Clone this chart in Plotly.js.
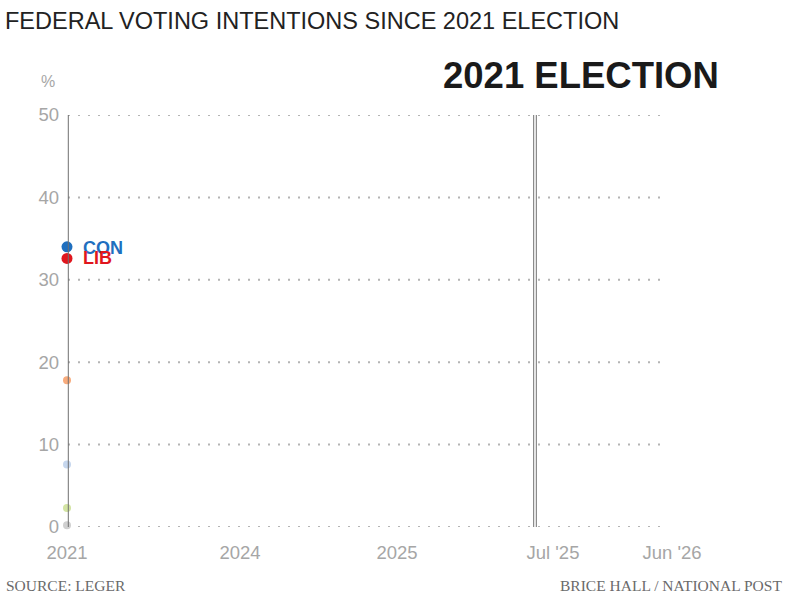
<!DOCTYPE html>
<html>
<head>
<meta charset="utf-8">
<script src="https://cdn.plot.ly/plotly-3.0.1.min.js"></script>
<style>
html,body{margin:0;padding:0;background:#fff;}
#chart{width:800px;height:599px;}
</style>
</head>
<body>
<div id="chart"></div>
<script>
// Tick positions along the (non-linear) time axis
const tickLabels = ["2021", "2024", "2025", "Jul '25", "Jun '26"];
const tickPos = [0, 173, 330, 486, 605];
const electionPos = 468;   // 2021 election marker position
const axisEnd = 595;

// Parties and values at the 2021 election
const parties = ["CON", "LIB", "NDP", "BQ", "GRN", "OTH"];
const partyX = [0, 0, 0, 0, 0, 0];
const partyValues = [34.0, 32.6, 17.8, 7.6, 2.3, 0.2];
const partyColors = ["#1f6fbf", "#e0161e", "#f8ab7c", "#c6d7ee", "#d3e4a3", "#d0d0d0"];
const partySizes = [11, 11, 8, 8, 8, 8];
const labelled = ["CON", "LIB"];
const labelY = [33.8, 32.7];

const yTicks = [0, 10, 20, 30, 40, 50];

const traces = parties.map((p, i) => ({
  type: 'scatter',
  mode: 'markers',
  x: [partyX[i]],
  y: [partyValues[i]],
  marker: {color: partyColors[i], size: partySizes[i]},
  cliponaxis: false,
  hoverinfo: 'none',
  showlegend: false
}));

const shapes = [];
yTicks.forEach(v => {
  shapes.push({type: 'line', xref: 'x', yref: 'y', x0: 1, x1: axisEnd, y0: v, y1: v,
    line: {color: '#b4b4b4', width: 2, dash: '2px,8px'}, layer: 'below'});
});
[0, electionPos].forEach(xv => {
  shapes.push({type: 'line', xref: 'x', yref: 'y', x0: xv - 1.3, x1: xv - 1.3, y0: 0, y1: 51.5,
    line: {color: '#707070', width: 1}, layer: 'above'});
  shapes.push({type: 'line', xref: 'x', yref: 'y', x0: xv + 1.3, x1: xv + 1.3, y0: 0, y1: 51.5,
    line: {color: '#707070', width: 1}, layer: 'above'});
});

const annotations = [
  {text: 'FEDERAL VOTING INTENTIONS SINCE 2021 ELECTION', xref: 'paper', yref: 'paper',
   x: -64/605, y: (599-72-21)/412, xanchor: 'left', yanchor: 'middle', showarrow: false,
   font: {family: 'Liberation Sans, Arial, sans-serif', size: 23.5, color: '#222222'}},
  {text: '2021 ELECTION', xref: 'paper', yref: 'paper',
   x: (721-67)/605, y: (599-72-76)/412, xanchor: 'right', yanchor: 'middle', showarrow: false,
   font: {family: 'Liberation Sans, Arial, sans-serif', size: 36.5, color: '#1a1a1a', weight: 'bold'}},
  {text: '%', xref: 'paper', yref: 'paper',
   x: (48-67)/605, y: (599-72-82)/412, xanchor: 'center', yanchor: 'middle', showarrow: false,
   font: {family: 'Liberation Sans, Arial, sans-serif', size: 16, color: '#a6a6a6'}},
  {text: 'SOURCE: LEGER', xref: 'paper', yref: 'paper',
   x: (4-67)/605, y: (599-72-585)/412, xanchor: 'left', yanchor: 'middle', showarrow: false,
   font: {family: 'Liberation Serif, serif', size: 15.5, color: '#6a6a6a'}},
  {text: 'BRICE HALL / NATIONAL POST', xref: 'paper', yref: 'paper',
   x: (784-67)/605, y: (599-72-585)/412, xanchor: 'right', yanchor: 'middle', showarrow: false,
   font: {family: 'Liberation Serif, serif', size: 15.5, color: '#6a6a6a'}}
];
labelled.forEach((p, k) => {
  const i = parties.indexOf(p);
  annotations.push({text: '<b>' + p + '</b>', xref: 'x', yref: 'y', x: partyX[i], y: labelY[k],
    xanchor: 'left', yanchor: 'middle', xshift: 14, showarrow: false,
    font: {family: 'Liberation Sans, Arial, sans-serif', size: 18, color: partyColors[i]}});
});

const layout = {
  width: 800, height: 599,
  margin: {l: 67, r: 128, t: 115, b: 72},
  paper_bgcolor: '#fff', plot_bgcolor: '#fff',
  showlegend: false,
  xaxis: {
    range: [0, 605], tickvals: tickPos, ticktext: tickLabels,
    showgrid: false, zeroline: false, showline: false, ticks: '',
    ticklabelstandoff: 12,
    tickfont: {family: 'Liberation Sans, Arial, sans-serif', size: 18.5, color: '#a6a6a6'},
    fixedrange: true
  },
  yaxis: {
    range: [0, 50], tickvals: yTicks,
    showgrid: false, zeroline: false, showline: false, ticks: '',
    ticklabelstandoff: 7,
    tickfont: {family: 'Liberation Sans, Arial, sans-serif', size: 18.5, color: '#a6a6a6'},
    fixedrange: true
  },
  shapes: shapes,
  annotations: annotations
};

Plotly.newPlot('chart', traces, layout, {displayModeBar: false, staticPlot: true});
</script>
</body>
</html>
